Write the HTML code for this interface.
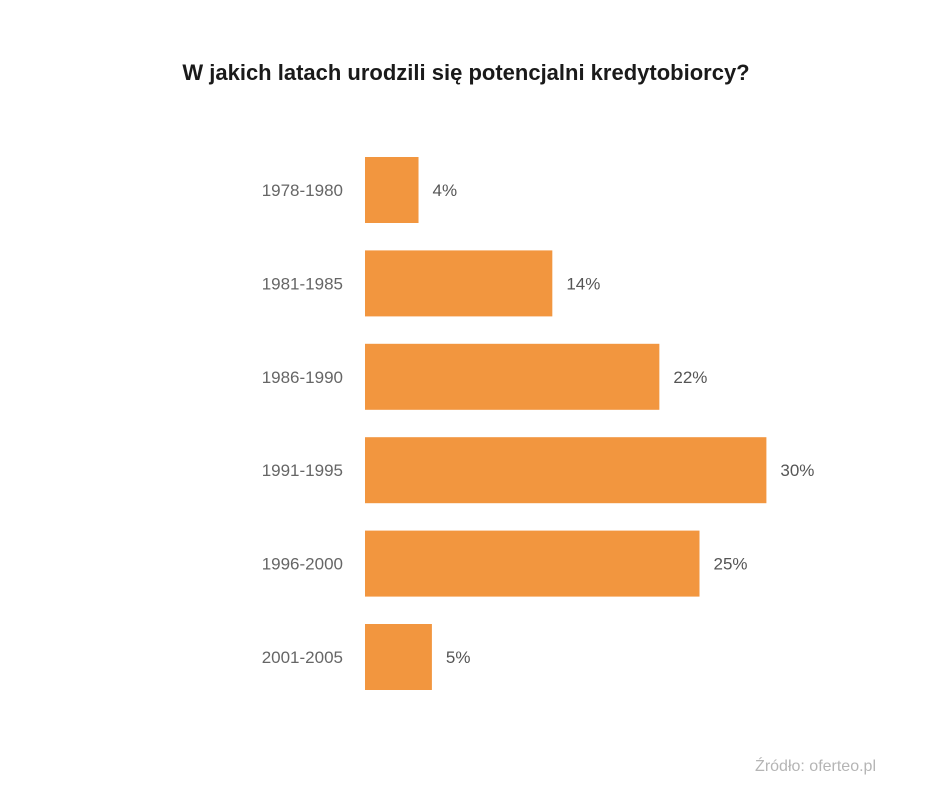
<!DOCTYPE html>
<html><head><meta charset="utf-8"><style>
body{margin:0;background:#fff;width:933px;height:805px;overflow:hidden;font-family:"Liberation Sans",sans-serif}
</style></head><body>
<svg width="933" height="805">
<text x="466" y="80" text-anchor="middle" font-size="22" font-weight="bold" fill="#1a1a1a">W jakich latach urodzili się potencjalni kredytobiorcy?</text>
<g id="bars"></g>
<text x="876" y="771" text-anchor="end" font-size="16" fill="#b5b5b5">Źródło: oferteo.pl</text>
</svg>
<script>
const categories=["1978-1980","1981-1985","1986-1990","1991-1995","1996-2000","2001-2005"];
const values=[4,14,22,30,25,5];
const g=document.getElementById('bars');
const NS='http://www.w3.org/2000/svg';
const x0=365, scale=13.38, y0=157, pitch=93.4, h=66;
const xs=v=>x0+v*scale;
categories.forEach((c,i)=>{
  const y=y0+i*pitch;
  const r=document.createElementNS(NS,'rect');
  r.setAttribute('x',x0);r.setAttribute('y',y);r.setAttribute('width',xs(values[i])-x0);r.setAttribute('height',h);r.setAttribute('fill','#F2963F');
  
  
  g.appendChild(r);
  const l=document.createElementNS(NS,'text');
  l.setAttribute('x',343);l.setAttribute('y',y+h/2+6);l.setAttribute('text-anchor','end');l.setAttribute('font-size','17');l.setAttribute('fill','#666');
  l.textContent=c;
  
  
  g.appendChild(l);
  const v=document.createElementNS(NS,'text');
  v.setAttribute('x',xs(values[i])+14);v.setAttribute('y',y+h/2+6);v.setAttribute('font-size','17');v.setAttribute('fill','#555');
  v.textContent=values[i]+'%';
  
  
  g.appendChild(v);
});
</script>
</body></html>
